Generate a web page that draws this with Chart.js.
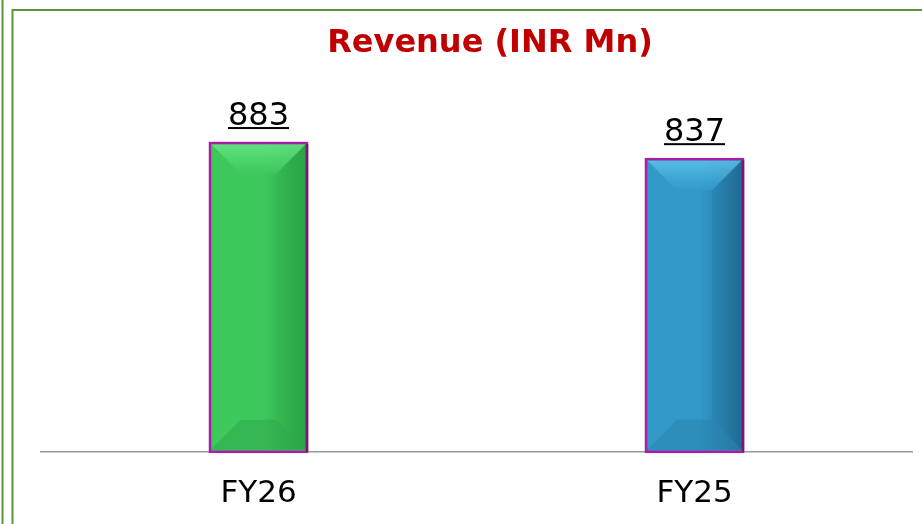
<!DOCTYPE html>
<html>
<head>
<meta charset="utf-8">
<script src="https://cdn.jsdelivr.net/npm/chart.js@4.4.1/dist/chart.umd.min.js"></script>
<style>
    html, body { margin: 0; padding: 0; background: #fff; }
    #wrap { position: relative; width: 922px; height: 524px; }
</style>
</head>
<body>
<div id="wrap"><canvas id="chart"></canvas></div>
<script>
// données
const chartTitle = "Revenue (INR Mn)";
const years = ["FY26", "FY25"];
const revenue = [883, 837];

// couleurs des barres : [gauche, droite, biseau haut, biseau bas]
const barColors = [
    ["#3dc85c", "#2aa244", "#6ae887", "#2ea74a"],
    ["#3299c9", "#206c94", "#5ec6ec", "#2783ad"]
];

// cadre vert + titre
const framePlugin = {
    id: "frame",
    beforeDraw(chart) {
        const c = chart.ctx;
        c.save();
        c.fillStyle = "#fff";
        c.fillRect(0, 0, chart.width, chart.height);
        c.strokeStyle = "#5a9438";
        c.lineWidth = 2;
        c.beginPath();
        c.moveTo(2.5, 0);
        c.lineTo(2.5, chart.height);
        c.moveTo(12.5, chart.height);
        c.lineTo(12.5, 10);
        c.lineTo(chart.width, 10);
        c.stroke();

        c.fillStyle = "#c00000";
        c.font = "bold 32px 'DejaVu Sans'";
        c.textAlign = "center";
        c.textBaseline = "alphabetic";
        c.fillText(chartTitle, 490, 52);
        c.restore();
    }
};

// effet biseauté + valeurs soulignées
const bevelPlugin = {
    id: "bevel",
    afterDatasetsDraw(chart) {
        const c = chart.ctx;
        const meta = chart.getDatasetMeta(0);
        meta.data.forEach((bar, i) => {
            const col = barColors[i];
            const b = 2;
            const l = bar.x - bar.width / 2 + b;
            const r = bar.x + bar.width / 2 - b;
            const t = bar.y + b;
            const bt = bar.base - b;
            const bev = 30;

            c.save();
            const g = c.createLinearGradient(l, 0, r, 0);
            g.addColorStop(0, col[0]);
            g.addColorStop(0.55, col[0]);
            g.addColorStop(1, col[1]);
            c.fillStyle = g;
            c.fillRect(l, t, r - l, bt - t);

            // biseau du haut
            const gt = c.createLinearGradient(0, t, 0, t + bev);
            gt.addColorStop(0, col[2]);
            gt.addColorStop(1, col[0]);
            c.fillStyle = gt;
            c.globalAlpha = 0.8;
            c.beginPath();
            c.moveTo(l, t);
            c.lineTo(r, t);
            c.lineTo(r - bev, t + bev);
            c.lineTo(l + bev, t + bev);
            c.closePath();
            c.fill();

            // côté droit (léger)
            c.globalAlpha = 0.12;
            c.fillStyle = col[1];
            c.beginPath();
            c.moveTo(r, t);
            c.lineTo(r, bt);
            c.lineTo(r - bev, bt - bev);
            c.lineTo(r - bev, t + bev);
            c.closePath();
            c.fill();

            // biseau du bas
            c.globalAlpha = 0.5;
            c.fillStyle = col[3];
            c.beginPath();
            c.moveTo(l, bt);
            c.lineTo(r, bt);
            c.lineTo(r - bev, bt - bev);
            c.lineTo(l + bev, bt - bev);
            c.closePath();
            c.fill();
            c.globalAlpha = 1;

            // bordure magenta
            c.lineWidth = 2.5;
            c.strokeStyle = "#a81da8";
            c.strokeRect(bar.x - bar.width / 2 + 1, bar.y + 1, bar.width - 2, bar.base - bar.y - 1);
            c.strokeStyle = "#761878";
            c.beginPath();
            c.moveTo(bar.x + bar.width / 2 - 1, bar.y + 2);
            c.lineTo(bar.x + bar.width / 2 - 1, bar.base);
            c.stroke();

            // valeur
            const txt = String(revenue[i]);
            c.fillStyle = "#000";
            c.font = "32px 'DejaVu Sans'";
            c.textAlign = "center";
            c.textBaseline = "alphabetic";
            c.fillText(txt, bar.x, bar.y - 17);
            const w = c.measureText(txt).width;
            c.fillRect(bar.x - w / 2, bar.y - 15, w, 2);
            c.restore();
        });
    }
};

const ctx = document.getElementById("chart").getContext("2d");

const chart = new Chart(ctx, {
    type: "bar",
    data: {
        labels: years,
        datasets: [{
            data: revenue,
            backgroundColor: barColors.map(c => c[0]),
            borderWidth: 0,
            barPercentage: 1,
            categoryPercentage: 0.227
        }]
    },
    options: {
        responsive: true,
        maintainAspectRatio: false,
        animation: false,
        layout: { padding: { left: 40.5, right: 9.5, top: 101, bottom: -13 } },
        plugins: {
            legend: { display: false },
            tooltip: { enabled: false }
        },
        scales: {
            x: {
                grid: { display: false, drawTicks: false },
                border: { display: true, color: "#9a9a9a", width: 1.5 },
                ticks: {
                    color: "#000",
                    padding: 24,
                    font: { family: "'DejaVu Sans'", size: 31 }
                }
            },
            y: {
                display: false,
                min: 0,
                max: 1000
            }
        }
    },
    plugins: [framePlugin, bevelPlugin]
});
</script>
</body>
</html>
